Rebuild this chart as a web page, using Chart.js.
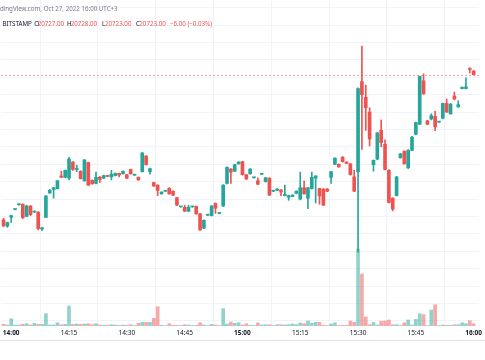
<!DOCTYPE html>
<html>
<head>
<meta charset="utf-8">
<script src="https://cdn.jsdelivr.net/npm/chart.js@4.4.0/dist/chart.umd.min.js"></script>
<style>
  html,body{margin:0;padding:0;background:#ffffff;}
  #wrap{position:relative;width:485px;height:360px;overflow:hidden;background:#fff;}
  canvas{position:absolute;left:0;top:0;}
  .t{position:absolute;white-space:nowrap;font-family:"Noto Sans",sans-serif;font-size:6.2px;line-height:8px;}
</style>
</head>
<body>
<div id="wrap">
  <canvas id="c" width="485" height="360"></canvas>
  <div class="t" id="title" style="top:4.5px;color:#787b86;">TradingView.com, Oct 27, 2022 16:00 UTC+3</div>
  <div class="t" style="top:20px;left:2.5px;color:#131722;">BITSTAMP</div>
  <div class="t" style="top:20px;left:34.3px;color:#131722;">O</div>
  <div class="t val" style="top:20px;left:37.7px;" id="vO"></div>
  <div class="t" style="top:20px;left:67px;color:#131722;">H</div>
  <div class="t val" style="top:20px;left:70.7px;" id="vH"></div>
  <div class="t" style="top:20px;left:102px;color:#131722;">L</div>
  <div class="t val" style="top:20px;left:105px;" id="vL"></div>
  <div class="t" style="top:20px;left:136px;color:#131722;">C</div>
  <div class="t val" style="top:20px;left:139.3px;" id="vC"></div>
  <div class="t val" style="top:20px;left:170px;" id="vChg"></div>
</div>
<script>
// ---- data (BITSTAMP BTC/USD, 1-minute candles, Oct 27 2022, UTC+3) ----
const firstTime = "13:58";
const candleCount = 123;
const times = [];
(function(){ const [h,m] = firstTime.split(":").map(Number); for(let i=0;i<candleCount;i++){ const t=h*60+m+i; times.push(String(Math.floor(t/60)).padStart(2,"0")+":"+String(t%60).padStart(2,"0")); } })();

const openP = [20556,20549,20559,20568,20573.5,20574,20560,20572,20565,20565,20545.5,20559,20587,20591,20592,20606.5,20605,20604,20622.5,20614,20612,20601,20622,20601.5,20598,20605,20604,20607,20605.5,20607,20609.5,20609,20608,20614,20607.5,20605,20611.5,20629.5,20611.5,20599,20596,20586,20589,20592.5,20589,20581.5,20571,20570.5,20566,20571,20571.5,20563,20546.5,20561.5,20561,20575,20563.5,20572,20598,20614.5,20612,20620.5,20623,20608,20609,20604.5,20601,20608.5,20600,20604,20589,20590,20590.5,20584,20582,20583,20586.5,20580,20593,20581,20592,20604,20592,20591.5,20591.5,20605,20620,20620,20628,20622.5,20620.5,20605.5,20611.5,20715,20697,20680,20619.5,20626,20659,20643,20613,20581,20584,20627.5,20635,20616,20636,20654.5,20666,20716,20670,20672,20675,20668.5,20673,20690,20678,20698.5,20686,20707,20707,20730,20727];
const highP = [20558,20553.5,20561.5,20568.5,20574.5,20574.5,20573,20572.5,20566.5,20565.5,20547.5,20584,20591,20593.5,20601.5,20612,20613.5,20628,20623,20619,20612.5,20625.5,20622.5,20602,20611,20606,20607.5,20607.5,20613,20610,20610,20612.5,20608.5,20614.5,20608,20605.5,20633.5,20630,20615.5,20599.5,20596.5,20588.5,20589.5,20593,20589.5,20582,20571.5,20573,20573,20571.5,20572,20563.5,20556,20562,20572.5,20575.5,20564,20596.5,20617,20615,20620,20623,20623.5,20608.5,20615,20605,20604.5,20609,20605,20604.5,20589.5,20592,20591,20596,20584.5,20585,20589.5,20611,20601,20593.5,20611,20607,20592.5,20592,20592,20612,20627.5,20620.5,20629,20623,20621,20613,20708,20756,20711,20685,20625,20656.5,20671,20648,20614,20581.5,20606,20632.5,20635.5,20637,20652,20668.5,20721.5,20724,20670.5,20678,20681,20669,20690.5,20695,20690,20703,20693,20709,20719.5,20731,20728];
const lowP = [20548.5,20547.5,20553,20567.5,20573,20557.5,20559.5,20561,20564.5,20544.5,20544,20558.5,20586.5,20581,20591.5,20604.5,20604.5,20602,20613,20611.5,20603,20600.5,20595.5,20597,20597.5,20599,20603.5,20605.5,20602,20606.5,20605.5,20608.5,20603.5,20608.5,20607,20601.5,20611,20619,20608.5,20594.5,20584,20585.5,20588.5,20585.5,20584,20572.5,20570.5,20565.5,20565.5,20570.5,20562.5,20544,20546,20561,20560.5,20563.5,20563,20571.5,20597.5,20598,20611.5,20620,20607.5,20602.5,20608.5,20604,20596.5,20608,20599.5,20584,20588.5,20589.5,20584,20583.5,20578.5,20582.5,20586,20579,20585.5,20569,20591.5,20575.5,20574,20572.5,20588.5,20598,20619.5,20616.5,20622.5,20620.5,20607.5,20588.5,20519,20637,20659,20641,20612,20625,20640,20613.5,20575.5,20566.5,20583.5,20627,20620,20615,20635.5,20654,20665.5,20700.5,20665.5,20671,20658.5,20668,20672,20679.5,20677.5,20694,20685.5,20706.5,20706.5,20725,20723];
const closeP = [20549,20553,20561,20568.2,20574,20558.5,20572,20562,20566,20546,20547,20583.5,20590,20593,20601,20605,20613,20626,20614,20614.2,20603.5,20625,20596,20597.5,20605,20602.5,20607,20606,20608.5,20609.5,20607.5,20612,20604,20609,20607.7,20602,20633,20619.5,20615,20595,20590,20588,20589.2,20586,20584.5,20573,20571.2,20566,20570.5,20571.2,20563,20544.5,20555.5,20561.7,20572,20569.5,20563.7,20596,20616.5,20611,20619.5,20622.5,20608,20603,20614.5,20604.7,20597,20608.7,20604.5,20584.5,20589.2,20591.5,20588,20585.5,20584,20584.5,20589,20593,20586,20593,20605,20606.5,20583.5,20573,20589,20611.5,20627,20617,20623,20621,20608,20589,20707,20700,20685,20649,20624.5,20656,20645,20614,20576,20568.5,20605.5,20632,20620.5,20636,20651,20668,20721,20701,20666,20676,20663,20668.7,20690,20680,20689,20695,20688.5,20708.5,20709,20729,20723];
const volume = [1.7,1,7.3,1,1,1.7,2.3,1,2.7,1.7,1.7,12.3,1,1,3.3,1.3,1.7,20,1.7,2,1.7,2,2.3,1.3,2.3,1,0.7,0.7,1.3,1,0.7,1,0.7,1.3,0.5,2.7,3.7,3.7,3.7,7.7,19.3,0.7,0.5,2.3,0.7,0.7,0.5,1.3,1,0.5,0.7,3.3,1,0.5,1.7,1,0.5,17.3,2,4,2.7,3.3,1,2.3,0.7,0.5,3,1,1.3,1.3,0.5,1.3,1.3,1,1.3,2,1.3,3,2.3,5,2.7,3.7,3.7,0.7,0.5,2,3.3,0.5,0.7,0.7,5,3.7,77,52,9,1.3,3.7,1,4.7,5,6,1.3,1.3,0.7,3.3,6,1,6.7,12.3,11.3,0.5,16,21.3,0.5,1,0.7,0.7,1.3,1.3,3.3,2.3,5.3,2.3];
const timeTicks = ["14:00","14:15","14:30","14:45","15:00","15:15","15:30","15:45","16:00"];
const prevClose = 20729;

// ---- helpers ----
const UP = "#26a69a", DOWN = "#ef5350";
const UPV = "rgba(38,166,154,0.5)", DOWNV = "rgba(239,83,80,0.5)";
const toMin = s => { const [h,m] = s.split(":").map(Number); return (h-14)*60 + m; };
const xs = times.map(toMin);
const isUp = closeP.map((c,i) => c >= openP[i]);

const bodies = xs.map((x,i) => ({x, y:[Math.min(openP[i],closeP[i]), Math.max(openP[i],closeP[i])]}));
const wicks  = xs.map((x,i) => ({x, y:[lowP[i], highP[i]]}));
const vols   = xs.map((x,i) => ({x, y:volume[i]}));

// legend values
const L = candleCount-1;
const fmt = v => v.toFixed(2);
document.getElementById("vO").textContent = fmt(openP[L]);
document.getElementById("vH").textContent = fmt(highP[L]);
document.getElementById("vL").textContent = fmt(lowP[L]);
document.getElementById("vC").textContent = fmt(closeP[L]);
const chg = closeP[L]-prevClose;
document.getElementById("vChg").textContent = (chg<0?"\u2212":"+")+Math.abs(chg).toFixed(2)+" ("+(chg<0?"\u2212":"+")+Math.abs(chg/prevClose*100).toFixed(2)+"%)";
document.querySelectorAll(".val").forEach(e=>e.style.color="#ef5350");

// clip title so "Trad" is off-canvas
(function(){
  const t = document.getElementById("title");
  const probe = document.createElement("span");
  probe.className="t"; probe.style.visibility="hidden"; probe.textContent="Trad";
  document.getElementById("wrap").appendChild(probe);
  t.style.left = (3.7 - probe.getBoundingClientRect().width) + "px";
  probe.remove();
})();

const priceLine = {
  id:"priceLine",
  beforeDatasetsDraw(chart){
    const {ctx, chartArea, scales} = chart;
    const y = scales.y.getPixelForValue(closeP[L]);
    ctx.save();
    ctx.strokeStyle = "rgba(239,83,80,0.55)";
    ctx.lineWidth = 1;
    ctx.setLineDash([2,2]);
    ctx.beginPath(); ctx.moveTo(chartArea.left, Math.round(y)+0.5); ctx.lineTo(chartArea.right, Math.round(y)+0.5); ctx.stroke();
    ctx.restore();
  },
  afterDraw(chart){
    const {ctx} = chart;
    ctx.save();
    ctx.strokeStyle = "#e0e3eb"; ctx.lineWidth = 1;
    ctx.beginPath(); ctx.moveTo(0, 340.5); ctx.lineTo(485, 340.5); ctx.stroke();
    ctx.restore();
  }
};

const FAMILY = '"Noto Sans", sans-serif';
new Chart(document.getElementById("c"), {
  type: "bar",
  data: {
    datasets: [
      { label:"body", data: bodies, backgroundColor: isUp.map(u=>u?UP:DOWN), barThickness: 3, minBarLength: 1, grouped:false, order: 0, yAxisID:"y" },
      { label:"wick", data: wicks, backgroundColor: isUp.map(u=>u?UP:DOWN), barThickness: 1, grouped:false, order: 1, yAxisID:"y" },
      { label:"volume", data: vols, backgroundColor: isUp.map(u=>u?UPV:DOWNV), barThickness: 3, grouped:false, order: 2, yAxisID:"yv" }
    ]
  },
  options: {
    responsive: false,
    animation: false,
    devicePixelRatio: 1,
    layout: { padding: { left:0, right:0, top:0, bottom:20 } },
    plugins: { legend:{display:false}, tooltip:{enabled:false} },
    scales: {
      x: {
        type: "linear",
        min: -2.63, max: 121.4,
        offset: false,
        afterBuildTicks: s => { s.ticks = timeTicks.map(t => ({value: toMin(t)})); },
        afterFit: s => { s.height = 14; },
        ticks: {
          padding: 3,
          color: "#131722",
          maxRotation: 0,
          autoSkip: false,
          callback: v => timeTicks.find(t => toMin(t) === v) || "",
          font: ctx => ({ family: FAMILY, size: 6.5, weight: (ctx.tick && String(ctx.tick.label).endsWith(":00")) ? "bold" : "normal" })
        },
        grid: { color: "#f0f3fa", drawTicks: false, lineWidth: 1 },
        border: { display: false }
      },
      y: {
        type: "linear",
        position: "left",
        min: 20434, max: 20808.9,
        afterBuildTicks: s => { const t=[]; for(let v=20440; v<=20800; v+=20) t.push({value:v}); s.ticks=t; },
        afterFit: s => { s.width = 0; },
        ticks: { display: false },
        grid: { color: "#f0f3fa", drawTicks: false },
        border: { display: false }
      },
      yv: {
        type: "linear",
        display: false,
        min: 0, max: 326
      }
    }
  },
  plugins: [priceLine]
});
</script>
</body>
</html>
